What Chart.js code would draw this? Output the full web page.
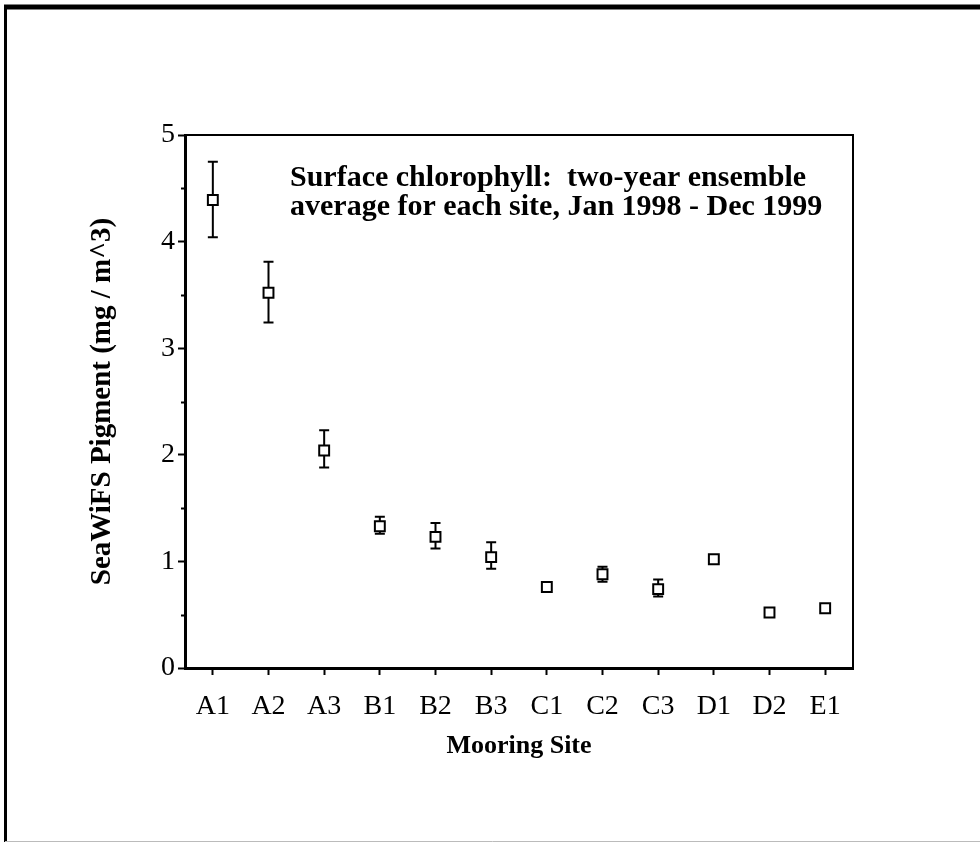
<!DOCTYPE html>
<html>
<head>
<meta charset="utf-8">
<title>SeaWiFS Pigment by Mooring Site</title>
<script src="https://cdn.jsdelivr.net/npm/chart.js@4.4.1/dist/chart.umd.min.js"></script>
<style>
  html, body { margin: 0; padding: 0; background: #fff; }
  #wrap { width: 980px; height: 844px; }
</style>
</head>
<body>
<div id="wrap"><canvas id="pigment" width="980" height="844"></canvas></div>
<script>
// mooring sites and the two-year mean pigment at each
const sites = ["A1", "A2", "A3", "B1", "B2", "B3", "C1", "C2", "C3", "D1", "D2", "E1"];
const pigment = [4.39, 3.52, 2.04, 1.33, 1.23, 1.04, 0.76, 0.88, 0.74, 1.02, 0.52, 0.56];
// error bar ends
const errHigh = [4.75, 3.81, 2.23, 1.42, 1.36, 1.18, 0.79, 0.95, 0.83, 1.05, 0.54, 0.58];
const errLow  = [4.04, 3.24, 1.88, 1.26, 1.12, 0.93, 0.73, 0.81, 0.67, 0.99, 0.50, 0.54];
const yTicks = [0, 1, 2, 3, 4, 5];
const yMinorTicks = [0.5, 1.5, 2.5, 3.5, 4.5];
const note = [
  "Surface chlorophyll:  two-year ensemble",
  "average for each site, Jan 1998 - Dec 1999"
];

const serif = "'Liberation Serif', 'Times New Roman', serif";

// box round the plot, minor ticks, error bars, the note and the page frame
const extras = {
  id: "extras",
  beforeDraw(chart) {
    const ctx = chart.ctx;
    ctx.save();
    ctx.fillStyle = "#fff";
    ctx.fillRect(0, 0, chart.width, chart.height);
    ctx.strokeStyle = "#000";
    ctx.lineWidth = 5;
    ctx.beginPath();
    ctx.moveTo(4, 7); ctx.lineTo(980, 7);
    ctx.stroke();
    ctx.lineWidth = 3;
    ctx.beginPath();
    ctx.moveTo(5.5, 5); ctx.lineTo(5.5, 842);
    ctx.stroke();
    ctx.strokeStyle = "#bbb";
    ctx.lineWidth = 1;
    ctx.beginPath();
    ctx.moveTo(5, 841.5); ctx.lineTo(980, 841.5);
    ctx.stroke();
    ctx.restore();
  },
  beforeDatasetsDraw(chart) {
    const {ctx, chartArea: a, scales: {x, y}} = chart;
    ctx.save();
    ctx.strokeStyle = "#000";
    ctx.lineWidth = 2;
    ctx.beginPath();
    ctx.moveTo(a.left, a.top); ctx.lineTo(a.right, a.top); ctx.lineTo(a.right, a.bottom);
    ctx.stroke();
    // minor ticks on the value axis
    yMinorTicks.forEach(v => {
      const py = Math.round(y.getPixelForValue(v)) + 0.5;
      ctx.beginPath();
      ctx.moveTo(a.left - 4, py); ctx.lineTo(a.left, py);
      ctx.stroke();
    });
    // error bars with caps
    sites.forEach((s, i) => {
      const px = x.getPixelForValue(i);
      const hi = y.getPixelForValue(errHigh[i]);
      const lo = y.getPixelForValue(errLow[i]);
      ctx.beginPath();
      ctx.moveTo(px, hi); ctx.lineTo(px, lo);
      ctx.moveTo(px - 5, hi); ctx.lineTo(px + 5, hi);
      ctx.moveTo(px - 5, lo); ctx.lineTo(px + 5, lo);
      ctx.stroke();
    });
    ctx.fillStyle = "#000";
    ctx.font = "bold 30px " + serif;
    ctx.textBaseline = "alphabetic";
    note.forEach((line, i) => ctx.fillText(line, a.left + 105, 186 + i * 29));
    ctx.restore();
  }
};

new Chart("pigment", {
  type: "line",
  data: {
    labels: sites,
    datasets: [{
      data: pigment,
      showLine: false,
      pointStyle: "rect",
      pointRadius: 7,
      pointBorderWidth: 2,
      pointBorderColor: "#000",
      pointBackgroundColor: "#fff"
    }]
  },
  options: {
    responsive: false,
    animation: false,
    layout: { padding: { left: 0, right: 127, top: 135, bottom: 0 } },
    plugins: { legend: { display: false }, tooltip: { enabled: false } },
    scales: {
      x: {
        type: "category",
        offset: true,
        afterFit: s => { s.height = 176; },
        border: { color: "#000", width: 3 },
        grid: { drawOnChartArea: false, offset: false, tickLength: 7, tickColor: "#000", tickWidth: 2 },
        ticks: { color: "#000", padding: 15, font: { family: serif, size: 28 } },
        title: {
          display: true,
          text: "Mooring Site",
          color: "#000",
          font: { family: serif, size: 26, weight: "bold" },
          padding: { bottom: 82 }
        }
      },
      y: {
        min: 0,
        max: 5,
        afterFit: s => { s.width = 185; },
        afterBuildTicks: s => { s.ticks = yTicks.map(v => ({ value: v })); },
        border: { color: "#000", width: 3 },
        grid: { drawOnChartArea: false, tickLength: 7, tickColor: "#000", tickWidth: 2 },
        ticks: { color: "#000", padding: 3, font: { family: serif, size: 28 } },
        title: {
          display: true,
          text: "SeaWiFS Pigment (mg / m^3)",
          color: "#000",
          font: { family: serif, size: 29, weight: "bold" },
          padding: { top: 85 }
        }
      }
    }
  },
  plugins: [extras]
});
</script>
</body>
</html>
